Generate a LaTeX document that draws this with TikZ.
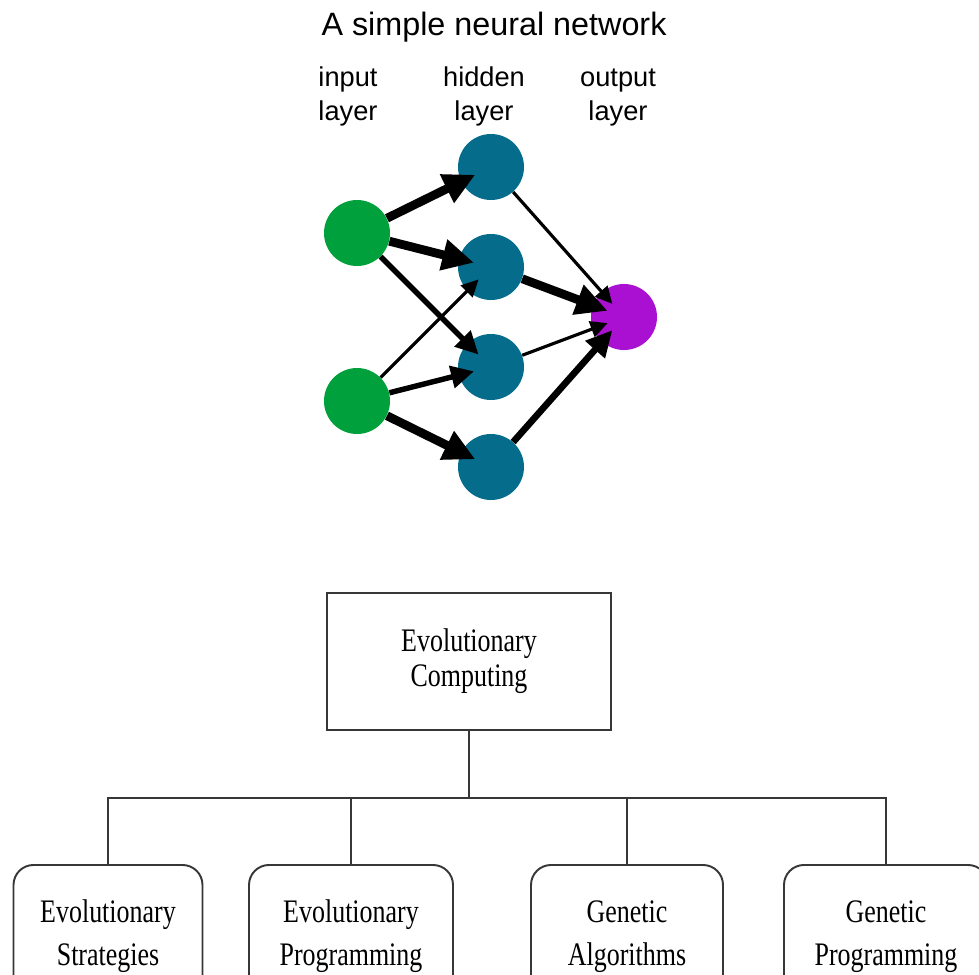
\documentclass[tikz,border=0pt]{standalone}
\usepackage{fontspec}
\setmainfont{Liberation Sans}
\newfontfamily\evofont[FakeStretch=0.79]{Liberation Serif}
\usetikzlibrary{arrows.meta}

\definecolor{ingreen}{RGB}{0,160,60}
\definecolor{hidteal}{RGB}{5,108,140}
\definecolor{outpurple}{RGB}{170,16,210}
\definecolor{boxline}{RGB}{55,55,55}

\begin{document}
\begin{tikzpicture}[x=0.02cm, y=-0.02cm,
	neuron/.style = {circle, minimum size=66*0.02cm, inner sep=0pt},
	syn/.style = {-{Triangle[length=5pt 2.6, width=5pt 2.4]}, shorten >=-9pt},
	lbl/.style = {font=\fontsize{15.5}{19.3}\selectfont, align=center, anchor=base},
	evo/.style = {draw=boxline, line width=1.1pt, align=center,
		font=\evofont\fontsize{18.7}{19.8}\selectfont},
	branch/.style = {evo, rounded corners=20*0.02cm, inner sep=0pt, anchor=north,
		font=\evofont\fontsize{18.7}{24.4}\selectfont, text height=57.3pt, text depth=60pt}]
	
	\useasboundingbox (0,0) rectangle (979,974);
	
	% neural network
	\node[anchor=base, font=\fontsize{18.4}{22}\selectfont] (title) at (494,35) {A simple neural network};
	\node[lbl] (inlbl) at (348,120) {input\\layer};
	\node[lbl] (hidlbl) at (484,120) {hidden\\layer};
	\node[lbl] (outlbl) at (618,120) {output\\layer};
	
	\node[neuron, fill=ingreen] (i1) at (357,233) {};
	\node[neuron, fill=ingreen] (i2) at (357,401) {};
	\foreach \n/\y in {h1/167, h2/267, h3/367, h4/467}
		\node[neuron, fill=hidteal] (\n) at (491,\y) {};
	\node[neuron, fill=outpurple] (o) at (624,317) {};
	
	\foreach \a/\b/\w in {i1/h1/5, i1/h2/5, i1/h3/3.1, i2/h2/1.8, i2/h3/3.1,
		i2/h4/5, h1/o/1.8, h2/o/5, h3/o/1.8, h4/o/3.8}
		\draw[syn, line width=\w pt] (\a) -- (\b);
	
	% evolutionary computing
	\node[evo, minimum width=284*0.02cm, minimum height=137*0.02cm] (ec) at (469,661.5) {Evolutionary\\Computing};
	\node[branch, minimum width=189*0.02cm] (es) at (108,864) {Evolutionary\\Strategies};
	\node[branch, minimum width=204*0.02cm] (ep) at (351,864) {Evolutionary\\Programming};
	\node[branch, minimum width=192*0.02cm] (ga) at (627,864) {Genetic\\Algorithms};
	\node[branch, minimum width=204*0.02cm] (gp) at (886,864) {Genetic\\Programming};
	
	\draw[boxline, line width=1.1pt] (ec.south) -- ++(0,67) coordinate (fork);
	\foreach \c in {es,ep,ga,gp}
		\draw[boxline, line width=1.1pt] (fork) -| (\c.north);
\end{tikzpicture}
\end{document}
